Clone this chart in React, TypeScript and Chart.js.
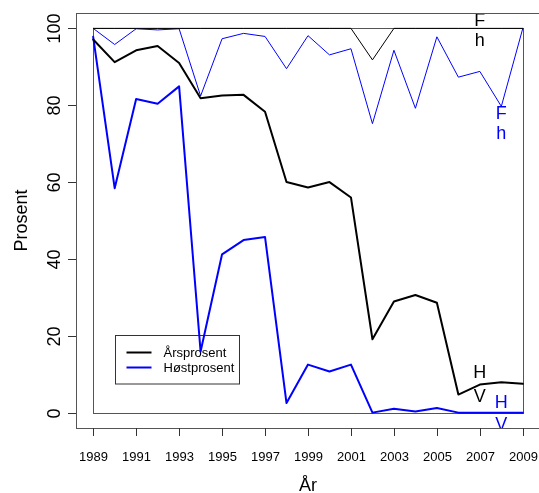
import React, { useEffect, useRef } from "react";
import { Chart, registerables } from "chart.js";

Chart.register(...registerables);

// Years on the horizontal axis
const years = [
  1989, 1990, 1991, 1992, 1993, 1994, 1995, 1996, 1997, 1998, 1999,
  2000, 2001, 2002, 2003, 2004, 2005, 2006, 2007, 2008, 2009,
];

// Thick series (shown in the legend)
const arsprosent = [
  97.1, 91.2, 94.3, 95.4, 91.0, 81.8, 82.5, 82.7, 78.3, 60.0, 58.6,
  60.0, 56.0, 19.1, 28.9, 30.6, 28.6, 4.7, 7.3, 7.9, 7.5,
];
const hostprosent = [
  97.8, 58.4, 81.6, 80.4, 84.9, 15.9, 41.2, 44.9, 45.7, 2.5, 12.5,
  10.7, 12.5, 0, 1.0, 0.3, 1.2, 0, 0, 0, 0,
];

// Thin companion series
const arsprosentTynn = [
  100, 100, 100, 100, 100, 100, 100, 100, 100, 100, 100,
  100, 100, 91.8, 100, 100, 100, 100, 100, 100, 100,
];
const hostprosentTynn = [
  100, 95.8, 99.9, 99.6, 99.9, 82.4, 97.3, 98.7, 97.9, 89.5, 98.1,
  93.1, 94.7, 75.2, 94.3, 79.2, 97.8, 87.3, 88.8, 79.7, 100,
];

// Axis ticks
const xTicks = [1989, 1991, 1993, 1995, 1997, 1999, 2001, 2003, 2005, 2007, 2009];
const yTicks = [0, 20, 40, 60, 80, 100];

// Letter annotations near the series ends (year, value)
const letterLabels = [
  { text: "F", year: 2007, value: 101.9, color: "#000000" },
  { text: "h", year: 2007, value: 96.6, color: "#000000" },
  { text: "F", year: 2008, value: 77.6, color: "#0000ff" },
  { text: "h", year: 2008, value: 72.6, color: "#0000ff" },
  { text: "H", year: 2007, value: 10.3, color: "#000000" },
  { text: "V", year: 2007, value: 4.1, color: "#000000" },
  { text: "H", year: 2008, value: 2.6, color: "#0000ff" },
  { text: "V", year: 2008, value: -3.1, color: "#0000ff" },
];

const FONT = '"Liberation Sans", Arial, Helvetica, sans-serif';

const basePlot = {
  id: "basePlot",
  beforeDatasetsDraw(chart: any) {
    const { ctx, scales } = chart;
    const x = scales.x;
    const y = scales.y;
    ctx.save();

    // frame around the full data range
    const l = Math.round(x.getPixelForValue(years[0])) + 0.5;
    const r = Math.round(x.getPixelForValue(years[years.length - 1])) + 0.5;
    const t = Math.round(y.getPixelForValue(100)) + 0.5;
    const b = Math.round(y.getPixelForValue(0)) + 0.5;
    ctx.strokeStyle = "#555555";
    ctx.lineWidth = 1;
    ctx.strokeRect(l, t, r - l, b - t);

    // legend (transparent, lines pass over it)
    const lx = 115.5;
    const ly = 335.5;
    const lw = 124;
    const lh = 48.5;
    ctx.strokeStyle = "#333333";
    ctx.strokeRect(lx, ly, lw, lh);
    const entries = chart.data.datasets.filter((d: any) => d.inLegend);
    ctx.font = `13px ${FONT}`;
    ctx.textAlign = "left";
    ctx.textBaseline = "middle";
    entries.forEach((d: any, i: number) => {
      const ey = ly + 17 + i * 15;
      ctx.strokeStyle = d.borderColor;
      ctx.lineWidth = 2;
      ctx.beginPath();
      ctx.moveTo(lx + 11, ey);
      ctx.lineTo(lx + 36, ey);
      ctx.stroke();
      ctx.fillStyle = "#000000";
      ctx.fillText(d.label, lx + 48, ey + 1);
    });

    ctx.restore();
  },
  afterDatasetsDraw(chart: any) {
    const { ctx, chartArea: a, scales } = chart;
    const x = scales.x;
    const y = scales.y;
    ctx.save();

    // letters, clipped to the plot region
    ctx.save();
    ctx.beginPath();
    ctx.rect(a.left, a.top, a.right - a.left, a.bottom - a.top);
    ctx.clip();
    ctx.font = `18px ${FONT}`;
    ctx.textAlign = "center";
    ctx.textBaseline = "middle";
    for (const lb of letterLabels) {
      ctx.fillStyle = lb.color;
      ctx.fillText(lb.text, x.getPixelForValue(lb.year), y.getPixelForValue(lb.value));
    }
    ctx.restore();

    // plot box
    ctx.strokeStyle = "#555555";
    ctx.lineWidth = 1;
    ctx.strokeRect(a.left + 0.5, a.top + 0.5, a.right - a.left, a.bottom - a.top);

    // x axis ticks and labels
    ctx.strokeStyle = "#333333";
    ctx.fillStyle = "#000000";
    ctx.font = `13px ${FONT}`;
    ctx.textAlign = "center";
    ctx.textBaseline = "alphabetic";
    for (const v of xTicks) {
      const px = Math.round(x.getPixelForValue(v)) + 0.5;
      ctx.beginPath();
      ctx.moveTo(px, a.bottom);
      ctx.lineTo(px, a.bottom + 8);
      ctx.stroke();
      ctx.fillText(String(v), px, a.bottom + 32.5);
    }

    // y axis ticks and rotated labels
    ctx.font = `18px ${FONT}`;
    for (const v of yTicks) {
      const py = Math.round(y.getPixelForValue(v)) + 0.5;
      ctx.beginPath();
      ctx.moveTo(a.left - 8, py);
      ctx.lineTo(a.left, py);
      ctx.stroke();
      ctx.save();
      ctx.translate(a.left - 16, py);
      ctx.rotate(-Math.PI / 2);
      ctx.fillText(String(v), 0, 0);
      ctx.restore();
    }

    // axis titles
    ctx.fillText("År", (a.left + a.right) / 2, a.bottom + 63);
    ctx.save();
    ctx.translate(27, (a.top + a.bottom) / 2);
    ctx.rotate(-Math.PI / 2);
    ctx.fillText("Prosent", 0, 0);
    ctx.restore();

    ctx.restore();
  },
};

export default function App() {
  const canvasRef = useRef<HTMLCanvasElement | null>(null);

  useEffect(() => {
    const canvas = canvasRef.current;
    if (!canvas) return;
    const toPoints = (vals: number[]) => years.map((yr, i) => ({ x: yr, y: vals[i] }));
    const line = (label: string, vals: number[], color: string, width: number, inLegend: boolean) => ({
      label,
      data: toPoints(vals),
      borderColor: color,
      backgroundColor: color,
      borderWidth: width,
      pointRadius: 0,
      tension: 0,
      fill: false,
      borderJoinStyle: "round" as const,
      borderCapStyle: "round" as const,
      inLegend,
    });

    const chart = new Chart(canvas, {
      type: "line",
      data: {
        datasets: [
          line("Årsprosent", arsprosent, "#000000", 2, true),
          line("Høstprosent", hostprosent, "#0000ff", 2, true),
          line("Årsprosent (tynn)", arsprosentTynn, "#000000", 1, false),
          line("Høstprosent (tynn)", hostprosentTynn, "#0000ff", 1, false),
        ] as any,
      },
      options: {
        responsive: false,
        devicePixelRatio: 1,
        animation: false,
        layout: { padding: { left: 76, top: 13, right: 0, bottom: 65 } },
        scales: {
          x: { type: "linear", min: 1988.2, max: 2009.8, display: false },
          y: { type: "linear", min: -4, max: 104, display: false },
        },
        plugins: {
          legend: { display: false },
          tooltip: { enabled: false },
        },
      },
      plugins: [basePlot],
    });
    return () => chart.destroy();
  }, []);

  return (
    <div
      style={{
        position: "fixed",
        left: 0,
        top: 0,
        width: 539,
        height: 493,
        overflow: "hidden",
        background: "#ffffff",
      }}
    >
      <canvas ref={canvasRef} width={540} height={493} style={{ display: "block" }} />
    </div>
  );
}
